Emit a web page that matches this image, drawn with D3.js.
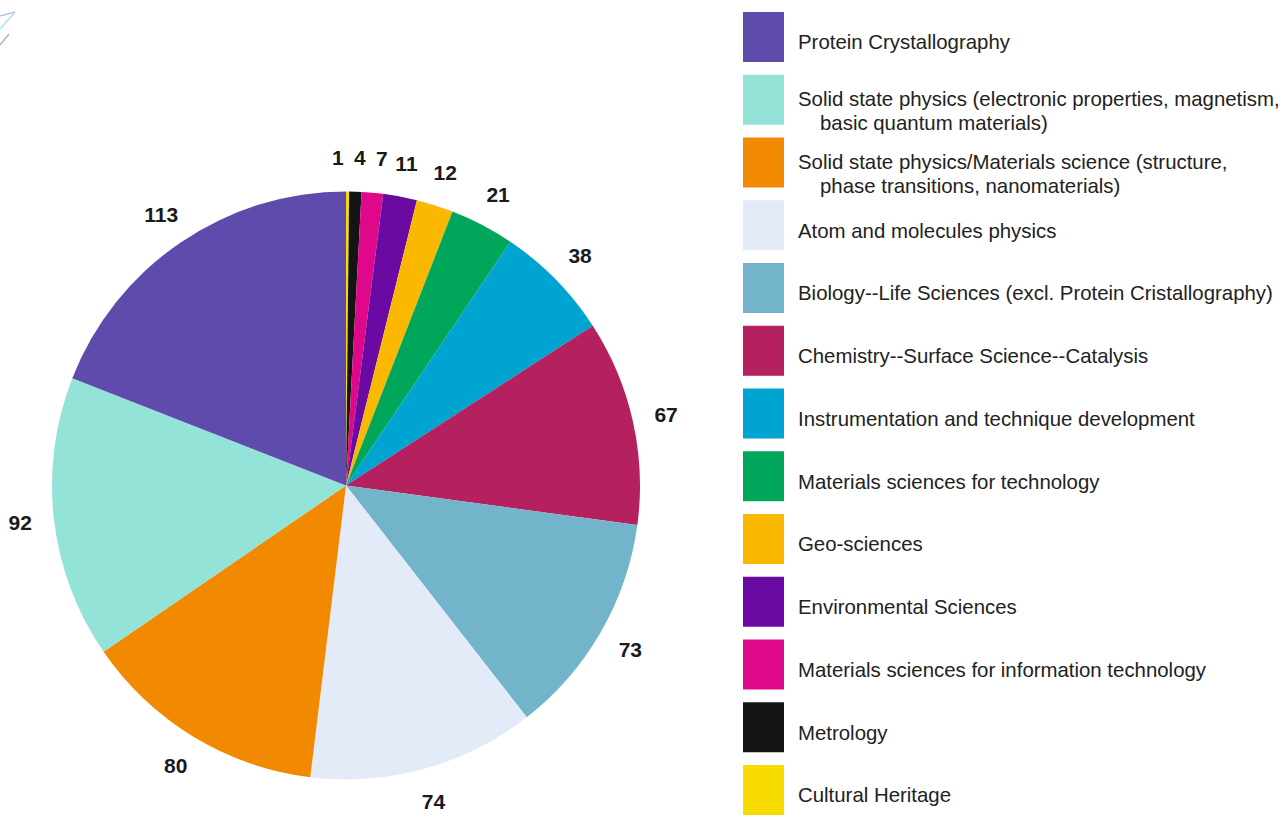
<!DOCTYPE html>
<html>
<head>
<meta charset="utf-8">
<script src="https://cdn.jsdelivr.net/npm/d3@7"></script>
<style>
  html, body { margin: 0; padding: 0; background: #ffffff; }
  svg { display: block; }
</style>
</head>
<body>
<div id="chart"></div>
<script>
// legend order (top to bottom); pie is drawn clockwise from the bottom of this list
var categories = [
  ["Protein Crystallography"],
  ["Solid state physics (electronic properties, magnetism,", "basic quantum materials)"],
  ["Solid state physics/Materials science (structure,", "phase transitions, nanomaterials)"],
  ["Atom and molecules physics"],
  ["Biology--Life Sciences (excl. Protein Cristallography)"],
  ["Chemistry--Surface Science--Catalysis"],
  ["Instrumentation and technique development"],
  ["Materials sciences for technology"],
  ["Geo-sciences"],
  ["Environmental Sciences"],
  ["Materials sciences for information technology"],
  ["Metrology"],
  ["Cultural Heritage"]
];
var values = [113, 92, 80, 74, 73, 67, 38, 21, 12, 11, 7, 4, 1];
var colors = ["#5f4bab", "#93e3d8", "#f18a00", "#e4ebf8", "#72b5cb", "#b5205e",
              "#00a4d0", "#00a65a", "#fbb800", "#6a0aa3", "#e0088a", "#141414", "#f8dc00"];

(function(d3) {
  var width = 1282, height = 820;
  var cx = 346, cy = 485.5, radius = 294, labelRadius = 328;

  var svg = d3.select("#chart").append("svg")
      .attr("width", width)
      .attr("height", height);

  // faint decoration in the top left corner
  var deco = svg.append("g").attr("fill", "none").attr("stroke-width", 1.2);
  deco.append("path").attr("d", "M0,16L15,12").attr("stroke", "#a9a7cc");
  deco.append("path").attr("d", "M0,29L15,12").attr("stroke", "#9fe3ea");
  deco.append("path").attr("d", "M0,45L9,34").attr("stroke", "#a9a7cc");

  var dataset = values.map(function(v, i) {
    return { id: i, label: categories[i], count: v, color: colors[i] };
  });
  var pieData = dataset.slice().reverse();

  var pie = d3.pie()
      .sort(null)
      .value(function(d) { return d.count; });

  var arc = d3.arc().innerRadius(0).outerRadius(radius);
  var labelArc = d3.arc().innerRadius(labelRadius).outerRadius(labelRadius);

  var arcs = pie(pieData);

  var g = svg.append("g").attr("transform", "translate(" + cx + "," + cy + ")");

  g.selectAll("path.slice")
    .data(arcs)
    .enter()
    .append("path")
      .attr("class", "slice")
      .attr("d", arc)
      .attr("fill", function(d) { return d.data.color; });

  // label positions, pushed apart where they collide
  var pos = arcs.map(function(d) {
    var c = labelArc.centroid(d);
    return { x: c[0], y: c[1], text: d.data.count };
  });
  var minGap = 22;
  for (var iter = 0; iter < 30; iter++) {
    for (var i = 1; i < pos.length; i++) {
      var a = pos[i - 1], b = pos[i];
      if (Math.abs(a.y - b.y) < 18 && b.x - a.x < minGap) {
        var push = (minGap - (b.x - a.x)) / 2;
        a.x -= push;
        b.x += push;
      }
    }
  }

  g.selectAll("text.value")
    .data(pos)
    .enter()
    .append("text")
      .attr("class", "value")
      .attr("x", function(d) { return d.x; })
      .attr("y", function(d) { return d.y; })
      .attr("dy", "0.36em")
      .attr("text-anchor", "middle")
      .attr("font-family", "'Liberation Sans', Arial, sans-serif")
      .attr("font-weight", "bold")
      .attr("font-size", "21px")
      .attr("fill", "#1a1a1a")
      .text(function(d) { return d.text; });

  // LEGEND
  var rowScale = d3.scaleLinear()
      .domain([0, dataset.length - 1])
      .range([12, 765]);
  var swatch = 50;

  var legend = svg.append("g").attr("class", "legend");
  var rows = legend.selectAll("g.row")
    .data(dataset)
    .enter()
    .append("g")
      .attr("class", "row")
      .attr("transform", function(d, i) { return "translate(743," + rowScale(i) + ")"; });

  rows.append("rect")
    .attr("width", 41)
    .attr("height", swatch)
    .attr("fill", function(d) { return d.color; });

  rows.each(function(d) {
    var lines = d.label;
    var t = d3.select(this).append("text")
      .attr("font-family", "'Liberation Sans', Arial, sans-serif")
      .attr("font-size", "20.4px")
      .attr("fill", "#222222");
    lines.forEach(function(line, k) {
      var yc = lines.length === 1 ? swatch / 2 + 5 : swatch / 2 - 1 + k * 24;
      t.append("tspan")
        .attr("x", k === 0 ? 55 : 77)
        .attr("y", yc)
        .attr("dy", "0.36em")
        .text(line);
    });
  });

})(window.d3);
</script>
</body>
</html>
